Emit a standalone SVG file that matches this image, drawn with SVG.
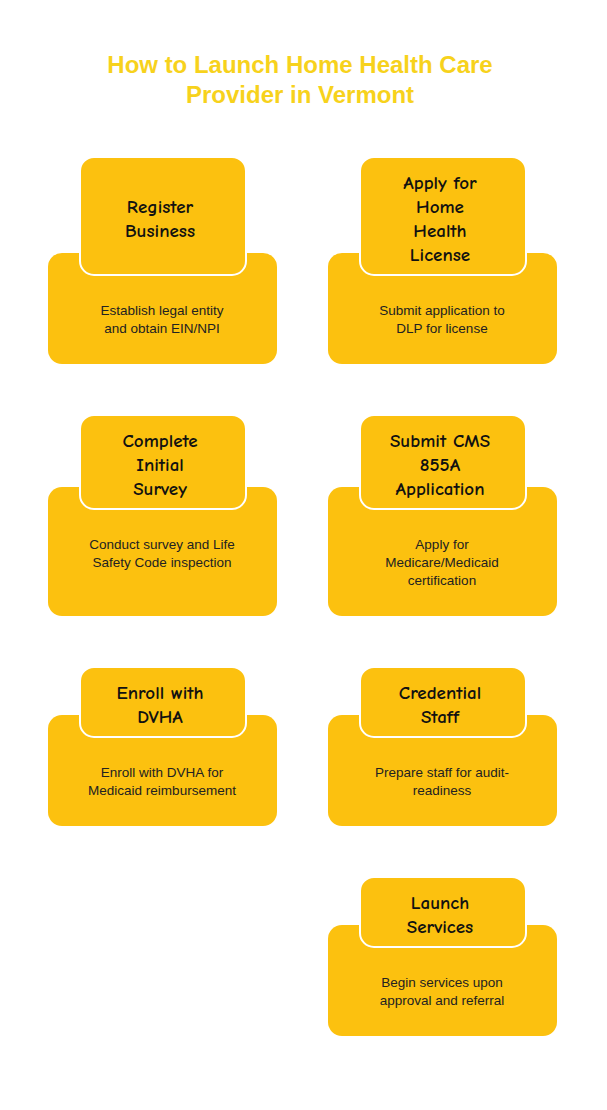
<svg xmlns="http://www.w3.org/2000/svg" width="607" height="1110" viewBox="0 0 607 1110">
<style>
.card{fill:#fcc10f}
.tab{fill:#fcc10f;stroke:#fff;stroke-width:2}
.h{font-family:"Comic Neue","Liberation Sans",sans-serif;font-weight:bold;font-size:19px;fill:#111;text-anchor:middle}
.d{font-family:"Liberation Sans",sans-serif;font-size:13.5px;fill:#222;text-anchor:middle}
.t{font-family:"Liberation Sans",sans-serif;font-weight:bold;font-size:24px;fill:#f7d21c;text-anchor:middle}
</style>
<rect width="607" height="1110" fill="#fff"/>
<text class="t" x="300" y="73">How to Launch Home Health Care</text>
<text class="t" x="300" y="103">Provider in Vermont</text>
<g id="connectors"/>
<g id="n1"><rect class="card" x="48" y="253" width="229" height="111" rx="14"/><rect class="tab" x="80" y="157" width="166" height="118" rx="14"/>
<text class="h" x="160" y="213">Register</text><text class="h" x="160" y="237">Business</text>
<text class="d" x="162" y="315">Establish legal entity</text><text class="d" x="162" y="333">and obtain EIN/NPI</text></g>
<g id="n2"><rect class="card" x="328" y="253" width="229" height="111" rx="14"/><rect class="tab" x="360" y="157" width="166" height="118" rx="14"/>
<text class="h" x="440" y="189">Apply for</text><text class="h" x="440" y="213">Home</text><text class="h" x="440" y="237">Health</text><text class="h" x="440" y="261">License</text>
<text class="d" x="442" y="315">Submit application to</text><text class="d" x="442" y="333">DLP for license</text></g>
<g id="n3"><rect class="card" x="48" y="487" width="229" height="129" rx="14"/><rect class="tab" x="80" y="415" width="166" height="94" rx="14"/>
<text class="h" x="160" y="447">Complete</text><text class="h" x="160" y="471">Initial</text><text class="h" x="160" y="495">Survey</text>
<text class="d" x="162" y="549">Conduct survey and Life</text><text class="d" x="162" y="567">Safety Code inspection</text></g>
<g id="n4"><rect class="card" x="328" y="487" width="229" height="129" rx="14"/><rect class="tab" x="360" y="415" width="166" height="94" rx="14"/>
<text class="h" x="440" y="447">Submit CMS</text><text class="h" x="440" y="471">855A</text><text class="h" x="440" y="495">Application</text>
<text class="d" x="442" y="549">Apply for</text><text class="d" x="442" y="567">Medicare/Medicaid</text><text class="d" x="442" y="585">certification</text></g>
<g id="n5"><rect class="card" x="48" y="715" width="229" height="111" rx="14"/><rect class="tab" x="80" y="667" width="166" height="70" rx="14"/>
<text class="h" x="160" y="699">Enroll with</text><text class="h" x="160" y="723">DVHA</text>
<text class="d" x="162" y="777">Enroll with DVHA for</text><text class="d" x="162" y="795">Medicaid reimbursement</text></g>
<g id="n6"><rect class="card" x="328" y="715" width="229" height="111" rx="14"/><rect class="tab" x="360" y="667" width="166" height="70" rx="14"/>
<text class="h" x="440" y="699">Credential</text><text class="h" x="440" y="723">Staff</text>
<text class="d" x="442" y="777">Prepare staff for audit-</text><text class="d" x="442" y="795">readiness</text></g>
<g id="n7"><rect class="card" x="328" y="925" width="229" height="111" rx="14"/><rect class="tab" x="360" y="877" width="166" height="70" rx="14"/>
<text class="h" x="440" y="909">Launch</text><text class="h" x="440" y="933">Services</text>
<text class="d" x="442" y="987">Begin services upon</text><text class="d" x="442" y="1005">approval and referral</text></g>
</svg>
